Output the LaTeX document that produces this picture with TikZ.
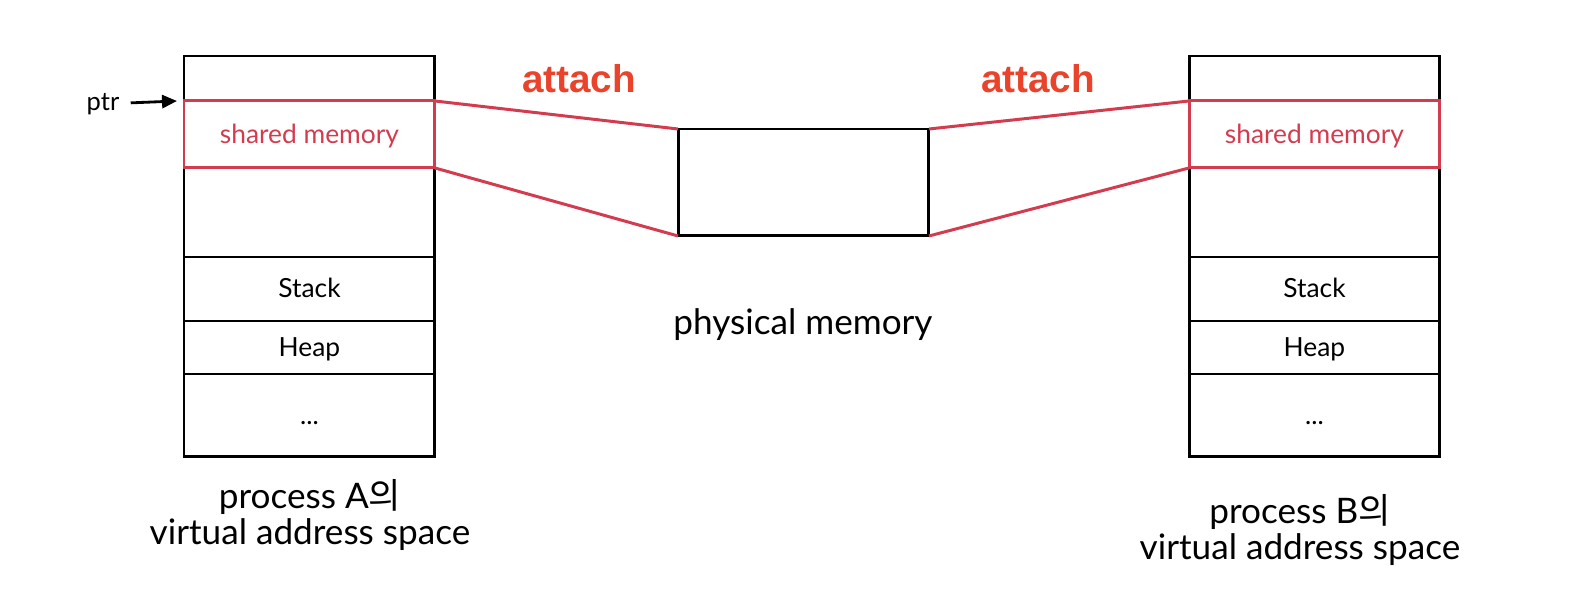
\documentclass[tikz,border=0pt]{standalone}
\usepackage{fontspec}
\setmainfont{Lato}
\newfontfamily\krfont{Noto Sans CJK KR}
\newfontfamily\tagfont{Liberation Sans}
\usepackage{tikz}
\usetikzlibrary{arrows.meta,positioning}
\definecolor{shmred}{HTML}{D33B4F}
\definecolor{tagred}{HTML}{E9432B}
\tikzset{%
	cell/.style     = {draw, line width=1.1pt, rectangle, minimum width=5.02cm, inner sep=0pt, outer sep=0pt, text height=1em, text depth=0pt, font=\fontsize{15}{18}\selectfont},
	column/.style   = {draw, line width=1.7pt, rectangle, minimum width=5.02cm, minimum height=8.02cm, inner sep=0pt, outer sep=0pt},
	shared/.style   = {cell, draw=shmred, text=shmred, line width=1.7pt}, % shared segment
	link/.style     = {shmred, line width=1.7pt}, % attach lines
	caption/.style  = {align=center, font=\fontsize{20}{20.5}\selectfont},
	tag/.style      = {text=tagred, font=\tagfont\bfseries\fontsize{22}{26}\selectfont},
	pointer/.style  = {line width=1.6pt, -{Triangle[length=8.5pt,width=7.5pt]}, shorten <=3pt},
}
\begin{document}
\begin{tikzpicture}[x=0.02cm, y=-0.02cm]
	\useasboundingbox (0,0) rectangle (1588,608);

	% process A
	\node[cell, minimum height=0.9cm, anchor=north west] (topA) at (184,56) {};
	\node[cell, minimum height=1.34cm, below=0pt of topA] (shmA) {};
	\node[cell, minimum height=1.78cm, below=0pt of shmA] (gapA) {};
	\node[cell, minimum height=1.28cm, below=0pt of gapA] (stackA) {Stack};
	\node[cell, minimum height=1.06cm, below=0pt of stackA] (heapA) {Heap};
	\node[cell, minimum height=1.66cm, below=0pt of heapA] (restA) {...};
	\node[column, anchor=north west] (colA) at (184,56) {};
	\node[shared, minimum height=1.34cm, below=0pt of topA] (sharedA) {shared memory};
	\node[caption] (capA) at (310,515) {process A{\krfont 의}\\virtual address space};

	% process B
	\node[cell, minimum height=0.9cm, anchor=north west] (topB) at (1189,56) {};
	\node[cell, minimum height=1.34cm, below=0pt of topB] (shmB) {};
	\node[cell, minimum height=1.78cm, below=0pt of shmB] (gapB) {};
	\node[cell, minimum height=1.28cm, below=0pt of gapB] (stackB) {Stack};
	\node[cell, minimum height=1.06cm, below=0pt of stackB] (heapB) {Heap};
	\node[cell, minimum height=1.66cm, below=0pt of heapB] (restB) {...};
	\node[column, anchor=north west] (colB) at (1189,56) {};
	\node[shared, minimum height=1.34cm, below=0pt of topB] (sharedB) {shared memory};
	\node[caption] (capB) at (1300,530) {process B{\krfont 의}\\virtual address space};

	% physical memory
	\node[column, minimum height=2.14cm, anchor=north west] (phys) at (678,129) {};
	\node[caption] (physlabel) at (803,325) {physical memory};

	\node[tag] (tagA) at (579,79) {attach};
	\node[tag] (tagB) at (1038,79) {attach};

	\node[font=\fontsize{14.5}{17}\selectfont] (ptr) at (103,104) {ptr};
	\coordinate[left=4pt of sharedA.north west] (ptrtip);

	\draw[pointer] (ptr) -- (ptrtip);
	\draw[link] (sharedA.north east) -- (phys.north west);
	\draw[link] (sharedA.south east) -- (phys.south west);
	\draw[link] (phys.north east) -- (sharedB.north west);
	\draw[link] (phys.south east) -- (sharedB.south west);
\end{tikzpicture}
\end{document}
